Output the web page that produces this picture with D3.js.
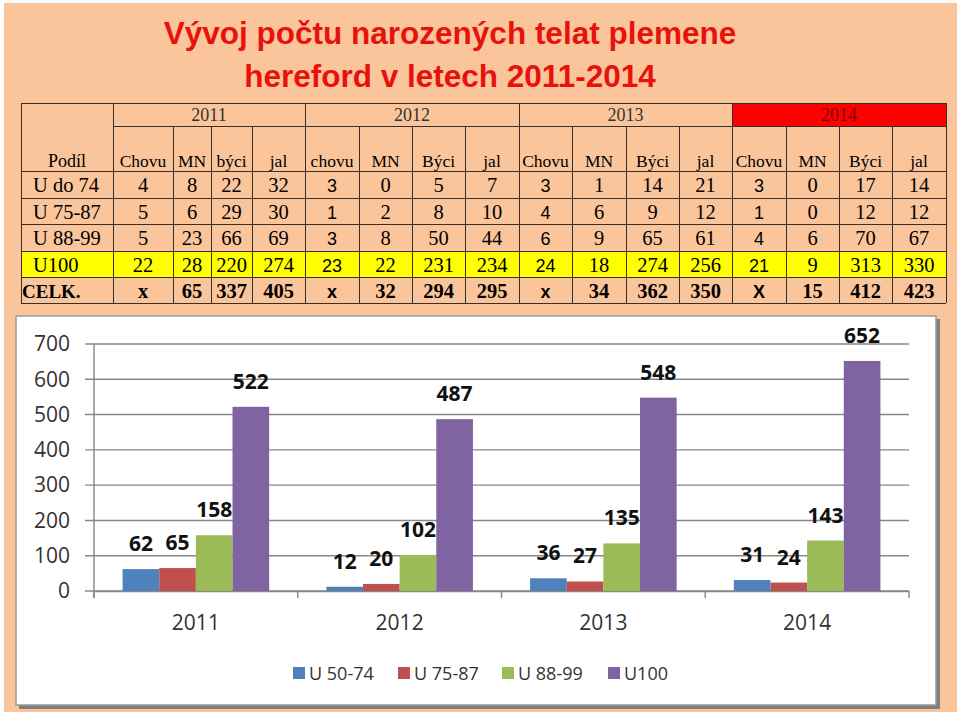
<!DOCTYPE html>
<html>
<head>
<meta charset="utf-8">
<script src="https://cdn.jsdelivr.net/npm/d3@7"></script>
<style>
  body { margin: 0; background: #fff; }
  svg { display: block; }
</style>
</head>
<body>
<div id="chart"></div>
<script>
// table data
var years = ["2011", "2012", "2013", "2014"]
var subHeads = ["Chovu", "MN", "býci", "jal", "chovu", "MN", "Býci", "jal", "Chovu", "MN", "Býci", "jal", "Chovu", "MN", "Býci", "jal"]
var rowLabels = ["U do 74", "U 75-87", "U 88-99", "U100", "CELK."]
var rowDo74 = [4, 8, 22, 32, 3, 0, 5, 7, 3, 1, 14, 21, 3, 0, 17, 14]
var row7587 = [5, 6, 29, 30, 1, 2, 8, 10, 4, 6, 9, 12, 1, 0, 12, 12]
var row8899 = [5, 23, 66, 69, 3, 8, 50, 44, 6, 9, 65, 61, 4, 6, 70, 67]
var rowU100 = [22, 28, 220, 274, 23, 22, 231, 234, 24, 18, 274, 256, 21, 9, 313, 330]
var rowCelk = ["x", 65, 337, 405, "x", 32, 294, 295, "x", 34, 362, 350, "X", 15, 412, 423]

// chart data
var seriesNames = ["U 50-74", "U 75-87", "U 88-99", "U100"]
var u5074 = [62, 12, 36, 31]
var u7587 = [65, 20, 27, 24]
var u8899 = [158, 102, 135, 143]
var u100 = [522, 487, 548, 652]
var yTicks = [0, 100, 200, 300, 400, 500, 600, 700]

var width = 960, height = 716
var colors = ["#4f81bd", "#c0504d", "#9bbb59", "#8064a2"]

var svg = d3.select("#chart").append("svg")
  .attr("width", width).attr("height", height)

// peach page
svg.append("rect").attr("x", 4).attr("y", 3).attr("width", 953).attr("height", 709).attr("fill", "#fac59b")

// title
var titleFont = "'Liberation Sans', Arial, sans-serif"
svg.append("text").attr("x", 450).attr("y", 44).attr("text-anchor", "middle")
  .style("font-family", titleFont).style("font-weight", "bold").style("font-size", "31.5px").attr("fill", "#e8120c")
  .text("Vývoj počtu narozených telat plemene")
svg.append("text").attr("x", 450).attr("y", 87).attr("text-anchor", "middle")
  .style("font-family", titleFont).style("font-weight", "bold").style("font-size", "31.5px").attr("fill", "#e8120c")
  .text("hereford v letech 2011-2014")

// ---------- table ----------
var serif = "'Liberation Serif', 'Times New Roman', serif"
var colEdges = [21, 113, 173, 211, 252, 305, 359, 412, 465, 519, 572, 626, 679, 732, 786, 839, 892, 946]
var rowEdges = [103, 126, 171, 198, 224, 251, 277, 303]
var lineCol = "#3b2e26"
var tbl = svg.append("g")

// fills
tbl.append("rect").attr("x", colEdges[13]).attr("y", rowEdges[0])
  .attr("width", colEdges[17] - colEdges[13]).attr("height", rowEdges[1] - rowEdges[0]).attr("fill", "#ff0000")
tbl.append("rect").attr("x", colEdges[0]).attr("y", rowEdges[5])
  .attr("width", colEdges[17] - colEdges[0]).attr("height", rowEdges[6] - rowEdges[5]).attr("fill", "#ffff00")

// horizontal lines
rowEdges.forEach(function(y, i) {
  tbl.append("line").attr("x1", i == 1 ? colEdges[1] : colEdges[0]).attr("x2", colEdges[17])
    .attr("y1", y + 0.5).attr("y2", y + 0.5).attr("stroke", lineCol)
})
// vertical lines
colEdges.forEach(function(x, i) {
  var top = rowEdges[0]
  if (i > 1 && i < 17 && (i - 1) % 4 != 0) top = rowEdges[1]
  tbl.append("line").attr("x1", x + 0.5).attr("x2", x + 0.5)
    .attr("y1", top).attr("y2", rowEdges[7]).attr("stroke", lineCol)
})

// year headers
years.forEach(function(yr, i) {
  tbl.append("text").attr("x", (colEdges[1 + i * 4] + colEdges[5 + i * 4]) / 2).attr("y", 121)
    .attr("text-anchor", "middle").style("font-family", serif).style("font-size", "18px")
    .attr("fill", i == 3 ? "#7a0000" : "#333").text(yr)
})
tbl.append("text").attr("x", (colEdges[0] + colEdges[1]) / 2).attr("y", 167).attr("text-anchor", "middle")
  .style("font-family", serif).style("font-size", "18px").text("Podíl")
subHeads.forEach(function(h, i) {
  tbl.append("text").attr("x", (colEdges[i + 1] + colEdges[i + 2]) / 2).attr("y", 167).attr("text-anchor", "middle")
    .style("font-family", serif).style("font-size", "17.5px").text(h)
})

var tableRows = [rowDo74, row7587, row8899, rowU100, rowCelk]
tableRows.forEach(function(vals, r) {
  var base = rowEdges[r + 2] + 21
  var bold = r == 4
  tbl.append("text").attr("x", bold ? 22 : 33).attr("y", base)
    .style("font-family", serif).style("font-size", bold ? "19px" : "20.5px").style("font-weight", bold ? "bold" : "normal")
    .text(rowLabels[r])
  vals.forEach(function(v, c) {
    var sans = c >= 4 && c % 4 == 0
    tbl.append("text").attr("x", (colEdges[c + 1] + colEdges[c + 2]) / 2).attr("y", base)
      .attr("text-anchor", "middle")
      .style("font-family", sans ? titleFont : serif)
      .style("font-size", sans ? "18px" : "20.5px")
      .style("font-weight", bold ? "bold" : "normal")
      .text(v)
  })
})

// ---------- chart panel ----------
svg.append("rect").attr("x", 19).attr("y", 319).attr("width", 921).attr("height", 390).attr("fill", "#7f7f7f")
svg.append("rect").attr("x", 16).attr("y", 316).attr("width", 920).attr("height", 389)
  .attr("fill", "#fff").attr("stroke", "#9a9a9a").attr("stroke-width", 1.5)

var sansFont = "'Open Sans', 'Noto Sans', sans-serif"
var x = d3.scaleBand().domain(years).range([94, 909])
var xs = d3.scaleBand().domain(seriesNames).range([0, x.bandwidth()]).paddingOuter(0.78)
var y = d3.scaleLinear().domain([0, 700]).range([591, 344])

// gridlines
svg.append("g").selectAll("line").data(yTicks).join("line")
  .attr("x1", 85).attr("x2", 909)
  .attr("y1", function(d) { return y(d) }).attr("y2", function(d) { return y(d) })
  .attr("stroke", "#878787").attr("stroke-width", 1.4)

// y axis
var yAxis = svg.append("g").attr("transform", "translate(94,0)")
  .call(d3.axisLeft(y).tickValues(yTicks).tickSize(0).tickPadding(24))
yAxis.select(".domain").attr("stroke", "#878787").attr("stroke-width", 1.4)
yAxis.selectAll("text").style("font-family", sansFont).style("font-size", "21px").attr("fill", "#333")

// x axis
var xAxis = svg.append("g").attr("transform", "translate(0,591)")
  .call(d3.axisBottom(x).tickSize(0).tickPadding(24))
xAxis.select(".domain").attr("stroke", "#878787").attr("stroke-width", 1.4)
xAxis.selectAll("text").style("font-family", sansFont).style("font-size", "21px").attr("fill", "#333")
var bounds = years.map(function(d) { return x(d) }).concat([x.range()[1]])
xAxis.selectAll(".cat-tick").data(bounds).join("line").attr("class", "cat-tick")
  .attr("x1", function(d) { return d }).attr("x2", function(d) { return d })
  .attr("y1", 0).attr("y2", 7).attr("stroke", "#878787").attr("stroke-width", 1.4)
yAxis.select(".domain").attr("d", "M0,344V598")

// bars
var allSeries = [u5074, u7587, u8899, u100]
var barData = []
years.forEach(function(yr, i) {
  seriesNames.forEach(function(s, j) {
    barData.push({ year: yr, name: s, value: allSeries[j][i], color: colors[j] })
  })
})
svg.append("g").selectAll("rect").data(barData).join("rect")
  .attr("x", function(d) { return x(d.year) + xs(d.name) })
  .attr("width", xs.bandwidth())
  .attr("y", function(d) { return y(d.value) })
  .attr("height", function(d) { return y(0) - y(d.value) })
  .attr("fill", function(d) { return d.color })

svg.append("g").selectAll("text").data(barData).join("text")
  .attr("x", function(d) { return x(d.year) + xs(d.name) + xs.bandwidth() / 2 })
  .attr("y", function(d) { return y(d.value) - 18 })
  .attr("text-anchor", "middle")
  .style("font-family", sansFont).style("font-weight", "bold").style("font-size", "21px")
  .attr("fill", "#111")
  .text(function(d) { return d.value })

// legend
var legendX = [293, 398, 502, 608]
var legend = svg.append("g")
seriesNames.forEach(function(s, i) {
  legend.append("rect").attr("x", legendX[i]).attr("y", 667).attr("width", 12).attr("height", 12).attr("fill", colors[i])
  legend.append("text").attr("x", legendX[i] + 16).attr("y", 680)
    .style("font-family", sansFont).style("font-size", "18px").attr("fill", "#333").text(s)
})
</script>
</body>
</html>
